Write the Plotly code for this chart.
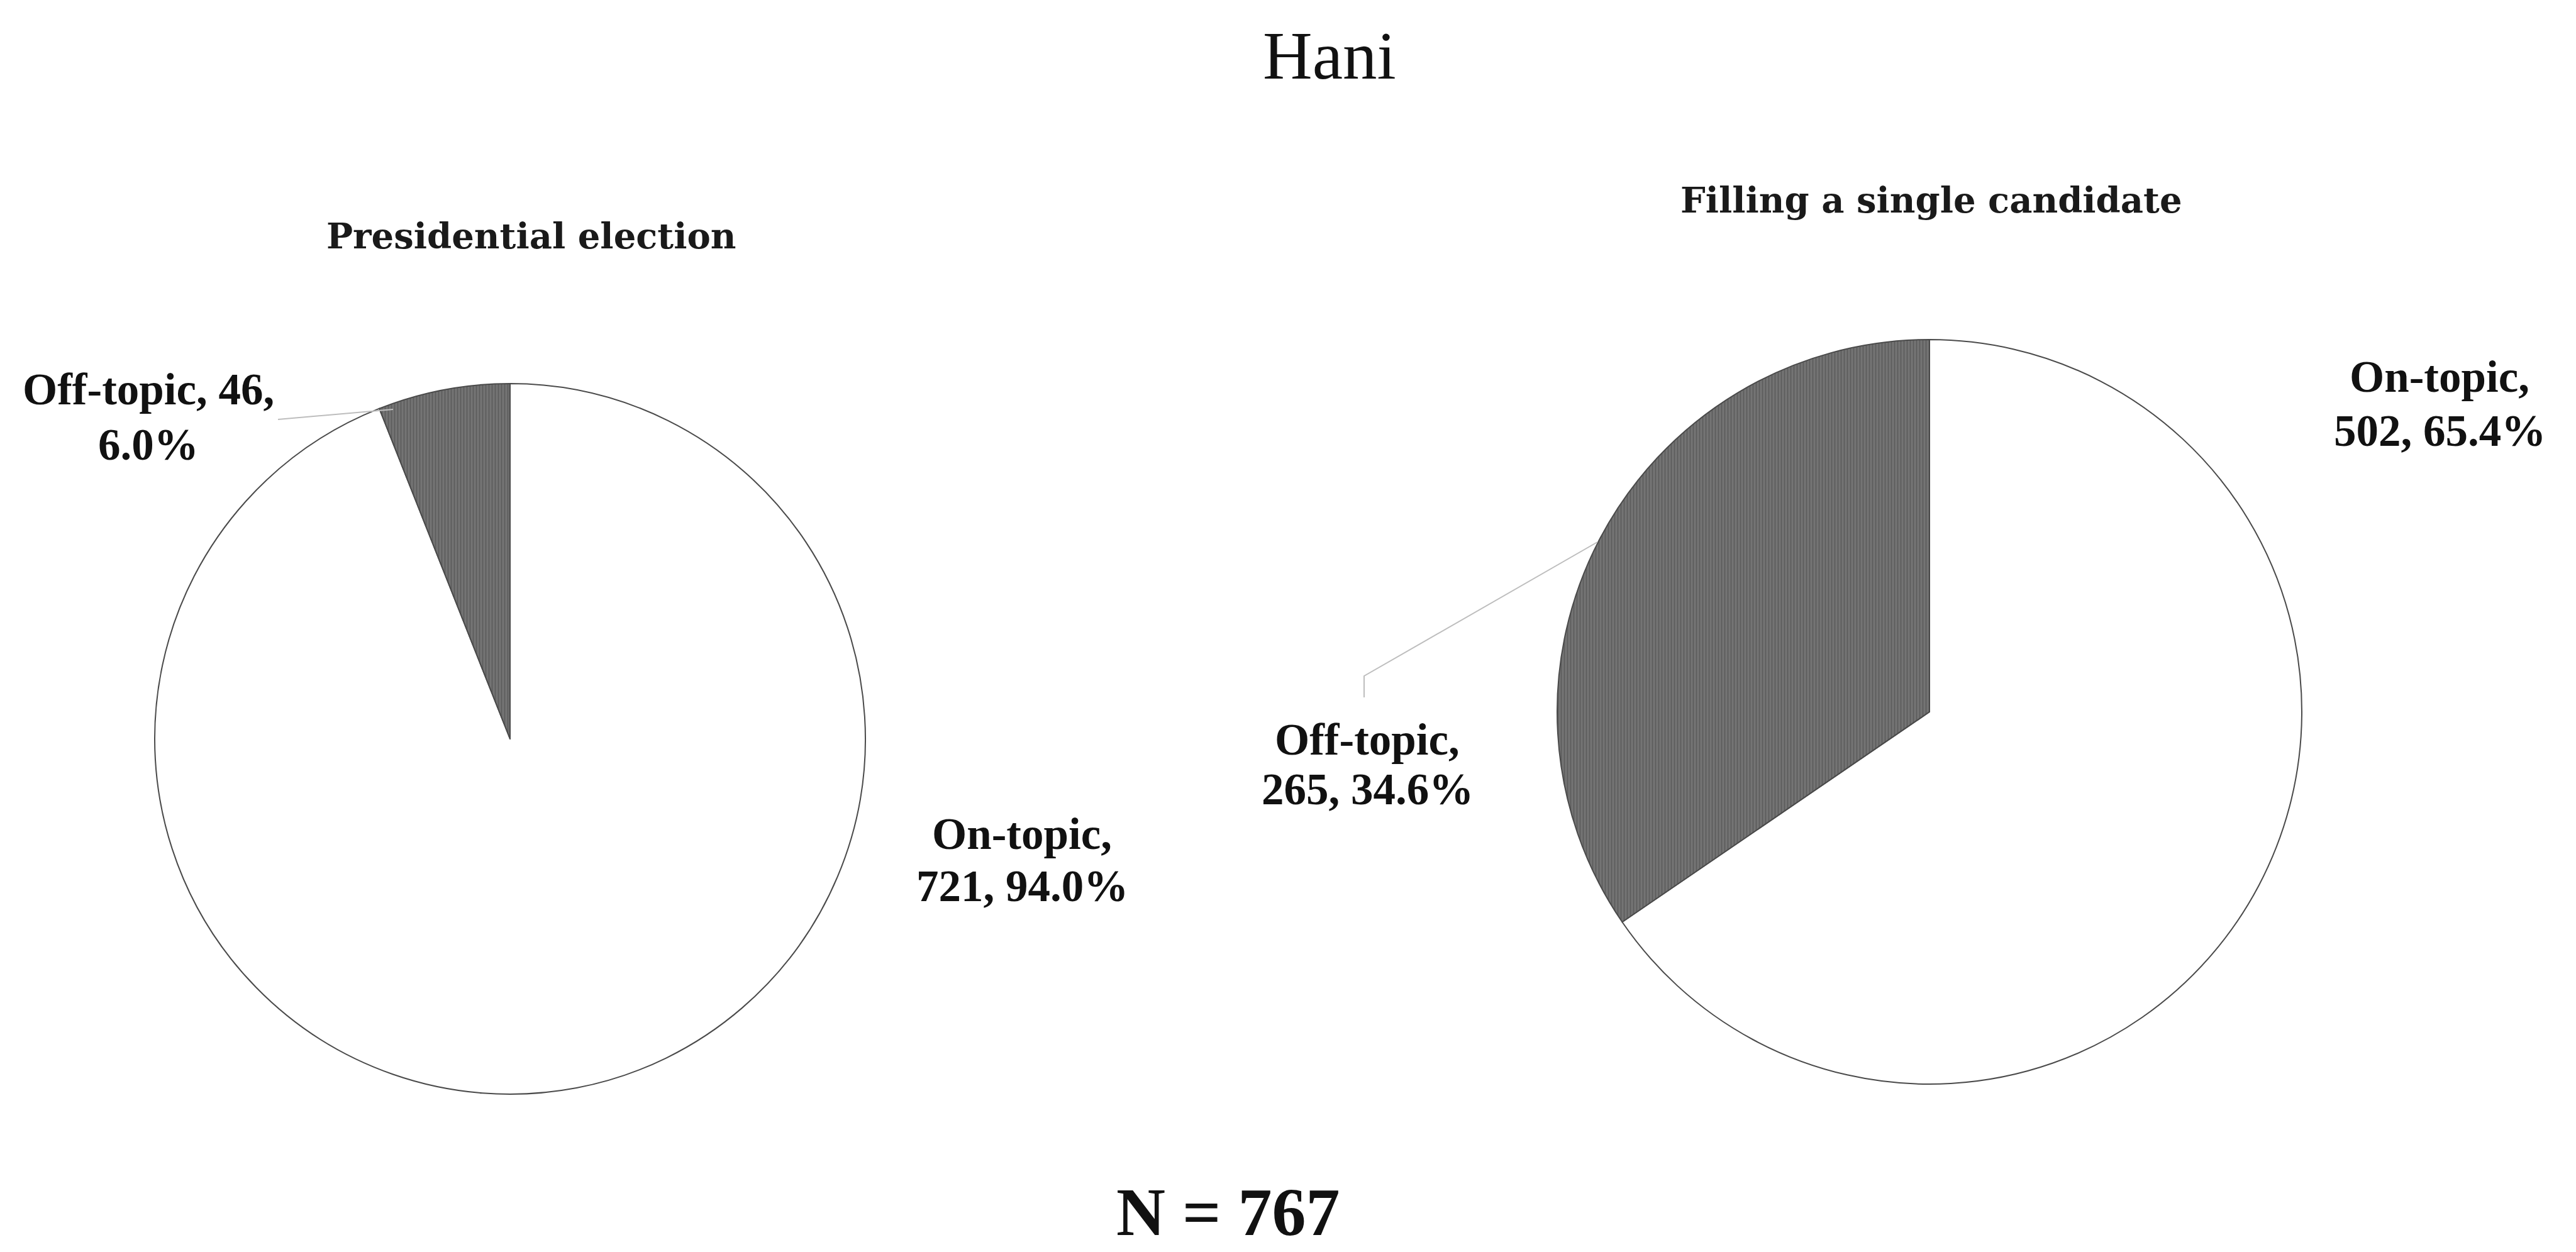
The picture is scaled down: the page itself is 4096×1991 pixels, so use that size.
import plotly.graph_objects as go

# Survey of Hani respondents (N = 767): on-topic vs off-topic answers
categories = ["On-topic", "Off-topic"]
presidential_counts = [721, 46]
single_candidate_counts = [502, 265]
main_title = "Hani"
chart_titles = ["Presidential election", "Filling a single candidate"]
n_total = 767

W, H = 4096, 1991
LABEL_FONT = "Liberation Serif"
TITLE_FONT = "DejaVu Serif"


def px_x(x):
    return x / W


def px_y(y):
    return 1 - y / H


def domain(cx, cy, r):
    return dict(x=[px_x(cx - r), px_x(cx + r)], y=[px_y(cy + r), px_y(cy - r)])


def pct(v, total):
    return f"{100 * v / total:.1f}%"


fig = go.Figure()

slice_colors = ["#ffffff", "#6c6c6c"]
slice_pattern = dict(shape=["", "|"], fgcolor="#5c5c5c", bgcolor=["#ffffff", "#747474"],
                     size=5, solidity=0.35, fillmode="replace")

pies = [
    (presidential_counts, (811, 1175, 565)),
    (single_candidate_counts, (3068, 1132, 592)),
]
for counts, (cx, cy, r) in pies:
    fig.add_trace(go.Pie(
        labels=categories,
        values=counts,
        sort=False,
        direction="clockwise",
        rotation=0,
        textinfo="none",
        hoverinfo="label+value+percent",
        marker=dict(colors=slice_colors, line=dict(color="#4a4a4a", width=2),
                    pattern=slice_pattern),
        domain=domain(cx, cy, r),
        showlegend=False,
    ))

annotations = []


def add_text(text, x, baseline, size, family, bold=False, color="#111111"):
    # place a single line so that its baseline sits at the given pixel row
    annotations.append(dict(
        text=f"<b>{text}</b>" if bold else text,
        x=px_x(x), y=px_y(baseline - 0.3375 * size),
        xref="paper", yref="paper", xanchor="center", yanchor="middle",
        showarrow=False, font=dict(family=family, size=size, color=color),
    ))


add_text(main_title, 2114, 125, 109, LABEL_FONT)
add_text(chart_titles[0], 845, 394, 56, TITLE_FONT, bold=True, color="#1a1a1a")
add_text(chart_titles[1], 3071, 337, 56, TITLE_FONT, bold=True, color="#1a1a1a")

# Data labels: category, count and share of N
p_on, p_off = presidential_counts
s_on, s_off = single_candidate_counts
data_labels = [
    ([f"{categories[1]}, {p_off},", pct(p_off, n_total)], 236, (643, 731)),
    ([f"{categories[0]},", f"{p_on}, {pct(p_on, n_total)}"], 1625, (1350, 1433)),
    ([f"{categories[0]},", f"{s_on}, {pct(s_on, n_total)}"], 3879, (623, 709)),
    ([f"{categories[1]},", f"{s_off}, {pct(s_off, n_total)}"], 2174, (1200, 1279)),
]
for lines, x, baselines in data_labels:
    for line, base in zip(lines, baselines):
        add_text(line, x, base, 71, LABEL_FONT, bold=True)

add_text(f"N = {n_total}", 1953, 1964, 108, LABEL_FONT, bold=True)

# Leader lines from the off-topic labels to their slices
leaders = [
    [(442, 667), (625, 651)],
    [(2169, 1109), (2169, 1075), (2540, 862)],
]
shapes = []
for pts in leaders:
    path = "M " + " L ".join(f"{px_x(x)} {px_y(y)}" for x, y in pts)
    shapes.append(dict(type="path", path=path, xref="paper", yref="paper",
                       line=dict(color="#bdbdbd", width=2)))

fig.update_layout(
    width=W, height=H,
    margin=dict(l=0, r=0, t=0, b=0),
    paper_bgcolor="#ffffff",
    plot_bgcolor="#ffffff",
    annotations=annotations,
    shapes=shapes,
)

fig.write_html("out.html")
